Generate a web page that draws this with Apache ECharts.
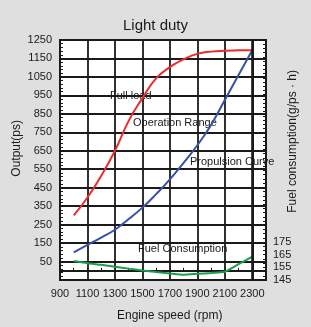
<!DOCTYPE html>
<html>
<head>
<meta charset="utf-8">
<script src="https://cdn.jsdelivr.net/npm/echarts@6/dist/echarts.min.js"></script>
<style>
  html, body { margin: 0; padding: 0; background: #dfdfdf; }
  #chart { width: 311px; height: 327px; }
</style>
</head>
<body>
<div id="chart"></div>
<script>
// engine speed (rpm)
const rpm = [1000, 1100, 1200, 1300, 1400, 1500, 1600, 1700, 1800, 1900, 2000, 2100, 2200, 2300]
// output (ps)
const fullLoad = [300, 397, 515, 650, 812, 935, 1042, 1103, 1145, 1175, 1187, 1192, 1194, 1195]
const propulsion = [100, 140, 180, 222, 280, 342, 415, 495, 585, 680, 790, 925, 1060, 1195]
// fuel consumption (g/ps·h)
const fuelConsumption = [160, 158.3, 157, 155.5, 154, 152.6, 151.3, 150.2, 149.2, 149.9, 150.6, 151.5, 157.5, 163.5]

// tick labels
const speedTicks = [900, 1100, 1300, 1500, 1700, 1900, 2100, 2300]
const outputTicks = [50, 150, 250, 350, 450, 550, 650, 750, 850, 950, 1050, 1150, 1250]
const fuelTicks = [145, 155, 165, 175]

const FONT = "'Liberation Sans', Arial, sans-serif"
const INK = '#1a1a1a'

const chart = echarts.init(document.getElementById('chart'), null, { renderer: 'canvas' })

const pair = (ys) => rpm.map((x, i) => [x, ys[i]])

// label helper for the curve names
const note = (text, x, y) => ({
  type: 'text',
  left: x,
  top: y,
  style: { text, fill: INK, font: `11px ${FONT}` },
})

const option = {
  backgroundColor: '#dfdfdf',
  animation: false,
  title: {
    text: 'Light duty',
    left: 'center',
    top: 13,
    textStyle: { fontFamily: FONT, fontSize: 15, fontWeight: 'normal', color: INK },
  },
  grid: {
    left: 60, right: 45, top: 40, bottom: 47,
    show: true,
    backgroundColor: '#fff',
    borderColor: INK,
    borderWidth: 2,
  },
  xAxis: {
    type: 'value',
    min: 900,
    max: 2400,
    interval: 200,
    axisLine: { lineStyle: { color: INK, width: 2 } },
    axisTick: { inside: true, length: 3, lineStyle: { color: INK } },
    minorTick: { show: true, splitNumber: 2, length: 3, lineStyle: { color: INK } },
    splitLine: { show: true, lineStyle: { color: INK, width: 1.8 } },
    axisLabel: {
      margin: 8,
      fontFamily: FONT, fontSize: 11, color: INK,
      formatter: (v) => (speedTicks.includes(v) ? String(v) : ''),
    },
  },
  yAxis: [
    {
      type: 'value',
      min: -50,
      max: 1250,
      interval: 100,
      axisLine: { show: true, lineStyle: { color: INK, width: 2 } },
      axisTick: { show: true, inside: true, length: 3, lineStyle: { color: INK } },
      minorTick: { show: true, splitNumber: 5, length: 3, lineStyle: { color: INK } },
      splitLine: { show: true, lineStyle: { color: INK, width: 1.8 } },
      axisLabel: {
        margin: 8,
        fontFamily: FONT, fontSize: 11, color: INK,
        formatter: (v) => (outputTicks.includes(v) ? String(v) : ''),
      },
    },
    {
      type: 'value',
      position: 'right',
      min: 145,
      max: 335,
      interval: 10,
      axisLine: { show: true, lineStyle: { color: INK, width: 2 } },
      axisTick: { show: true, inside: true, length: 3, lineStyle: { color: INK } },
      minorTick: { show: true, splitNumber: 3, length: 3, lineStyle: { color: INK } },
      splitLine: { show: false },
      axisLabel: {
        margin: 7,
        fontFamily: FONT, fontSize: 11, color: INK,
        formatter: (v) => (fuelTicks.includes(v) ? String(v) : ''),
      },
    },
  ],
  graphic: [
    {
      type: 'text', left: 11, top: 120, rotation: Math.PI / 2,
      style: { text: 'Output(ps)', fill: INK, font: `12px ${FONT}` },
    },
    {
      type: 'text', left: 287, top: 70, rotation: Math.PI / 2,
      style: { text: 'Fuel consumption(g/ps · h)', fill: INK, font: `12px ${FONT}` },
    },
    {
      type: 'text', left: 117, top: 310,
      style: { text: 'Engine speed (rpm)', fill: INK, font: `12px ${FONT}` },
    },
    note('Full load', 110, 90),
    note('Operation Range', 133, 117),
    note('Propulsion Curve', 190, 156),
    note('Fuel Consumption', 138, 243),
  ],
  series: [
    {
      name: 'Full load',
      type: 'line',
      data: pair(fullLoad),
      smooth: true,
      symbol: 'none',
      lineStyle: { color: '#ee2b2b', width: 2 },
      markLine: {
        silent: true,
        symbol: 'none',
        label: { show: false },
        lineStyle: { color: INK, width: 2.6, type: 'solid' },
        data: [{ xAxis: 2300 }],
      },
    },
    {
      name: 'Propulsion Curve',
      type: 'line',
      data: pair(propulsion),
      smooth: true,
      symbol: 'none',
      lineStyle: { color: '#3553a5', width: 2 },
    },
    {
      name: 'Fuel Consumption',
      type: 'line',
      yAxisIndex: 1,
      data: pair(fuelConsumption),
      smooth: 0.2,
      symbol: 'none',
      lineStyle: { color: '#1b9e4b', width: 2 },
    },
  ],
}

chart.setOption(option)
window.addEventListener('resize', () => chart.resize())
</script>
</body>
</html>
